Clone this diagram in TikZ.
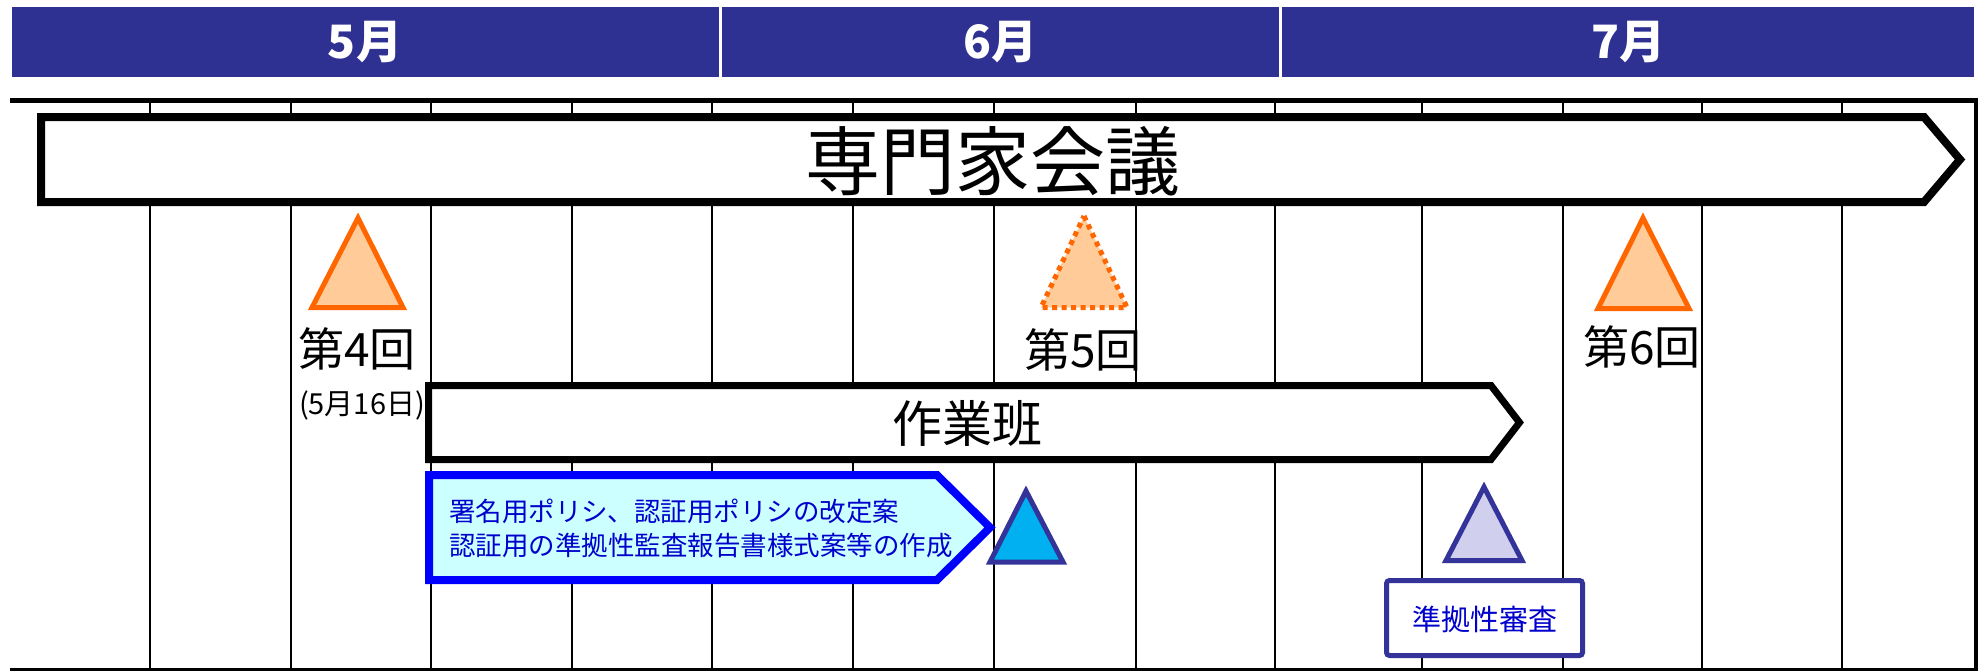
\documentclass[tikz,border=0pt]{standalone}
\usepackage{fontspec}
\setmainfont{Noto Sans CJK JP}
\definecolor{hdr}{RGB}{46,49,146}
\definecolor{orangeline}{RGB}{255,102,0}
\definecolor{orangefill}{RGB}{255,204,153}
\definecolor{navyline}{RGB}{51,51,153}
\definecolor{cyanfill}{RGB}{204,255,255}
\definecolor{skyfill}{RGB}{0,176,240}
\definecolor{lavfill}{RGB}{208,208,238}
\definecolor{bluetext}{RGB}{0,0,204}
\tikzset{
  gridline/.style={line width=2.7pt, black},
  phase/.style={line width=8pt, draw=black, fill=white, line join=miter},
  meeting/.style={line width=5pt, draw=orangeline, fill=orangefill, line join=miter},
  navytri/.style={line width=5pt, draw=navyline, line join=miter},
  monthlabel/.style={text=white, font=\fontsize{46}{50}\selectfont\bfseries, inner sep=0pt},
  roundlabel/.style={font=\fontsize{46}{50}\selectfont, inner sep=0pt},
}
\begin{document}
\begin{tikzpicture}[x=1pt,y=-1pt]
\useasboundingbox (0,0) rectangle (1980,670);
% header band
\fill[hdr] (12,7) rectangle (719,77);
\fill[hdr] (722,7) rectangle (1279,77);
\fill[hdr] (1282,7) rectangle (1974,77);
\node[monthlabel] (m5) at (365,42) {5月};
\node[monthlabel] (m6) at (1000,42) {6月};
\node[monthlabel] (m7) at (1628,42) {7月};
% grid
\foreach \gx in {150,291,431,572,712,853,994,1136,1275,1422,1563,1702,1842}
  \draw[gridline] (\gx,103) -- (\gx,668);
\draw[line width=5pt] (10,100.5) -- (1978,100.5);
\draw[line width=4pt] (1976,98) -- (1976,670);
\draw[line width=3pt] (10,669) -- (1978,669);
% expert meeting arrow
\draw[phase] (41,117) -- (1924,117) -- (1960,159.5) -- (1924,202) -- (41,202) -- cycle;
\node[inner sep=0pt, font=\fontsize{75}{80}\selectfont] (expert) at (993,161) {専門家会議};
% working group arrow
\draw[phase, line width=7pt] (428.5,385.5) -- (1491,385.5) -- (1519.5,422.5) -- (1491,459.5) -- (428.5,459.5) -- cycle;
\node[inner sep=0pt, font=\fontsize{50}{55}\selectfont] (wg) at (967,423) {作業班};
% blue task arrow
\draw[line width=8pt, draw=blue, fill=cyanfill, line join=miter] (429,475) -- (937,475) -- (990,527.5) -- (937,580) -- (429,580) -- cycle;
\node[anchor=west, align=left, inner sep=0pt, text=bluetext, font=\fontsize{26.5}{34}\selectfont] (task) at (449,528) {署名用ポリシ、認証用ポリシの改定案\\認証用の準拠性監査報告書様式案等の作成};
% meeting triangles
\draw[meeting] (358,218) -- (403,307.5) -- (312,307.5) -- cycle;
\node[roundlabel] (r4) at (357,349) {第4回};
\node[inner sep=0pt, font=\fontsize{29}{32}\selectfont] (d4) at (362,405) {(5月16日)};
\fill[orangefill] (1084,216) -- (1127,307.5) -- (1041,307.5) -- cycle;
\draw[line width=5pt, draw=orangeline, dash pattern=on 5pt off 4.5pt] (1084,216) -- (1127,307.5) -- (1041,307.5) -- cycle;
\node[roundlabel] (r5) at (1083,350) {第5回};
\draw[meeting] (1643,218) -- (1689,308.5) -- (1598,308.5) -- cycle;
\node[roundlabel] (r6) at (1642,347) {第6回};
% navy triangles
\draw[navytri, fill=skyfill] (1026,491) -- (1063,562) -- (990,562) -- cycle;
\draw[navytri, fill=lavfill] (1484,487) -- (1522,560.5) -- (1446,560.5) -- cycle;
% audit box
\draw[line width=5pt, draw=navyline, fill=white, rounded corners=3pt] (1386.5,580.5) rectangle (1582.5,655.5);
\node[inner sep=0pt, text=bluetext, font=\fontsize{29}{32}\selectfont] (audit) at (1485,619) {準拠性審査};
\end{tikzpicture}
\end{document}
